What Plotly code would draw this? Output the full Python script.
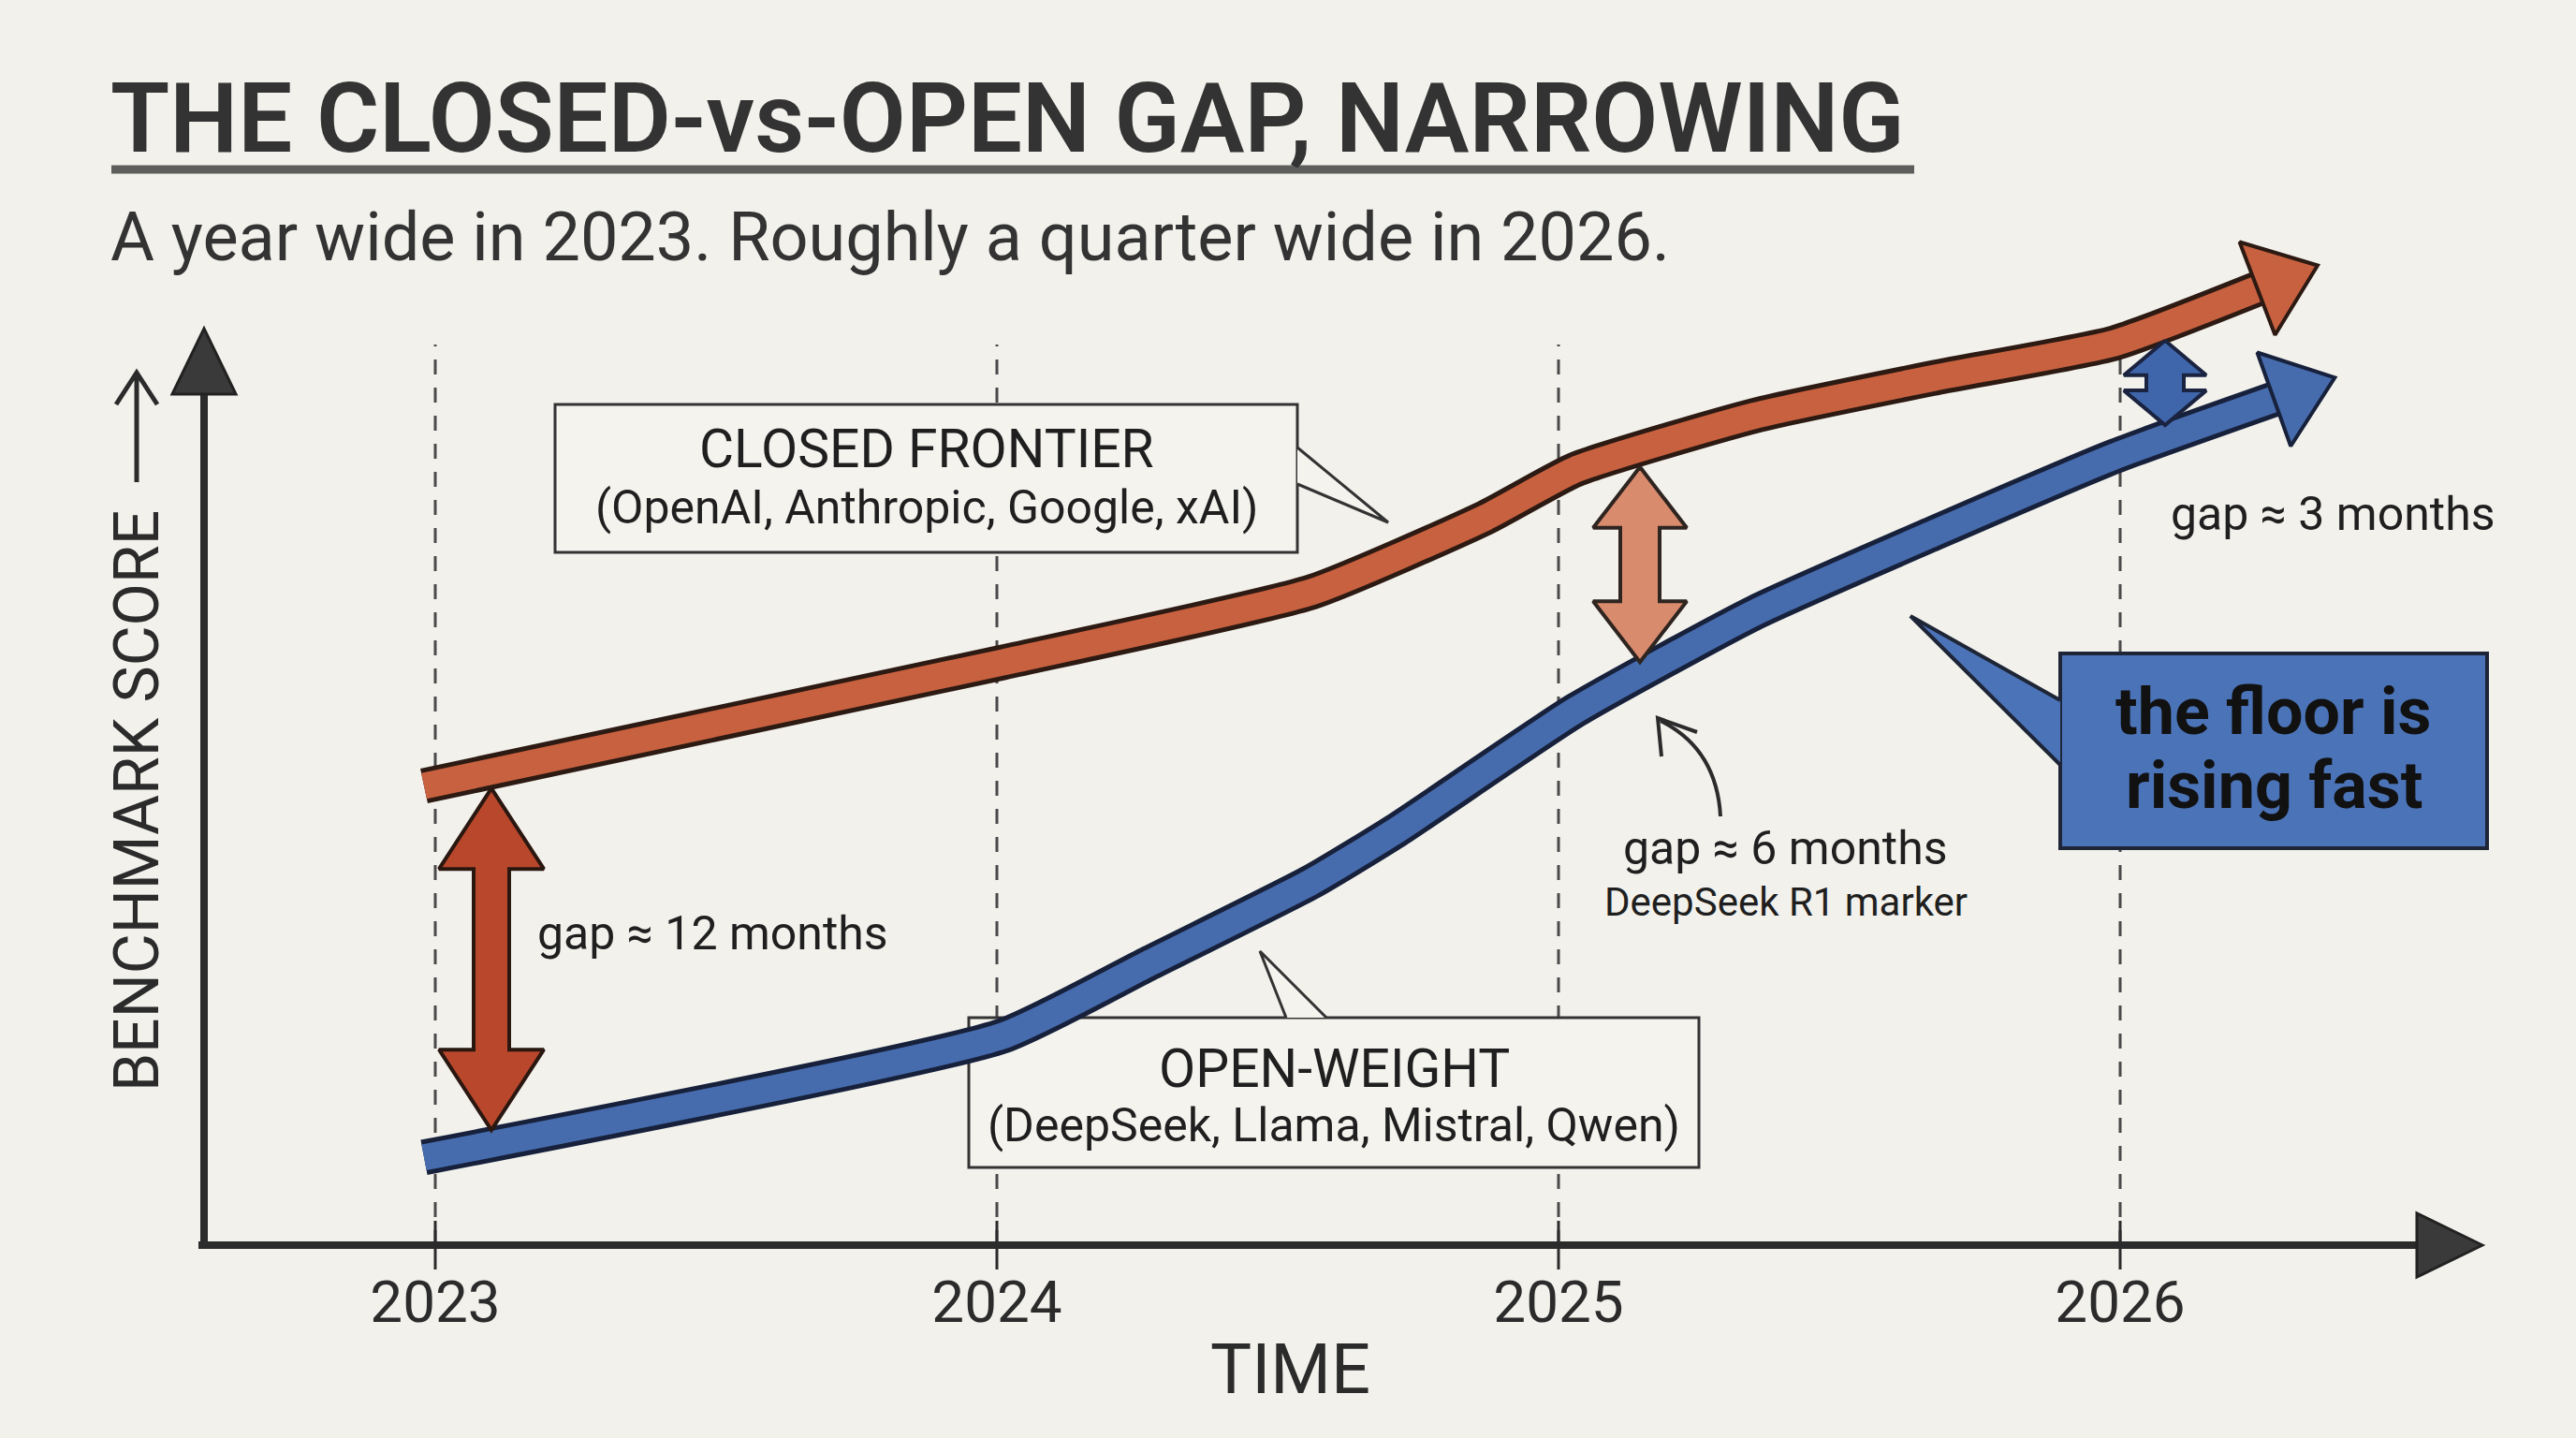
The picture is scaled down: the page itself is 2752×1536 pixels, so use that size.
import numpy as np
import plotly.graph_objects as go

# ---------------- data ----------------
closed_years = [2022.98, 2024.01, 2024.56, 2024.87, 2025.03, 2025.35, 2025.67, 2025.99, 2026.28]
closed_score = [45.0, 57.1, 64.0, 71.3, 76.0, 81.3, 85.0, 88.4, 94.5]
open_years = [2022.98, 2024.01, 2024.27, 2024.56, 2024.71, 2025.03, 2025.35, 2025.67, 2025.99, 2026.31]
open_score = [8.6, 20.5, 27.6, 35.6, 40.6, 52.4, 62.0, 69.8, 77.3, 83.6]
year_ticks = [2023, 2024, 2025, 2026]
tick_labels = ["2023", "2024", "2025", "2026"]
gap_years = [2023.10, 2025.145, 2026.08]
gap_labels = ["gap ≈ 12 months", "gap ≈ 6 months", "gap ≈ 3 months"]

# ---------------- geometry ----------------
W, H = 2752, 1536
PL, PR, PT, PB = 218, 2640, 240, 1330
X_PX_PER_YEAR = 600.0
X_REF_YEAR, X_REF_PX = 2024.5, 1365
x_range = [X_REF_YEAR + (PL - X_REF_PX) / X_PX_PER_YEAR, X_REF_YEAR + (PR - X_REF_PX) / X_PX_PER_YEAR]
y_range = [0, 100]
Y_PX = (PB - PT) / (y_range[1] - y_range[0])

FONT = "Roboto"
INK = "#2b2b2b"
BG = "#f2f1ec"
RED, RED_EDGE = "#c8613f", "#2c1a13"
BLUE, BLUE_EDGE = "#476cae", "#17213b"


def qx(xpix):
    return (xpix - PL) / (PR - PL)


def qy(ypix):
    return (PB - ypix) / (PB - PT)


def P(xpix, ypix):
    return f"{qx(xpix):.5f},{qy(ypix):.5f}"


fig = go.Figure()

# ---- main series (outline + fill + arrowhead) ----
for xs, ys, col, edge in [(closed_years, closed_score, RED, RED_EDGE),
                          (open_years, open_score, BLUE, BLUE_EDGE)]:
    n = len(xs)
    fig.add_trace(go.Scatter(x=xs, y=ys, mode="lines",
                             line=dict(color=edge, width=38, shape="spline", smoothing=0.5),
                             hoverinfo="skip"))
    fig.add_trace(go.Scatter(x=xs, y=ys, mode="lines+markers",
                             line=dict(color=col, width=28, shape="spline", smoothing=0.5),
                             marker=dict(symbol="triangle-up", angleref="previous", opacity=1,
                                         size=[0] * (n - 1) + [92], color=col,
                                         line=dict(color=edge, width=[0] * (n - 1) + [4])),
                             hoverinfo="skip"))


# ---- gap double arrows ----
def double_arrow(xc, ytop, ybot, hw, hh, sw):
    hwx = hw / 2 / X_PX_PER_YEAR
    swx = sw / 2 / X_PX_PER_YEAR
    hhy = hh / Y_PX
    xs = [xc, xc + hwx, xc + swx, xc + swx, xc + hwx, xc, xc - hwx, xc - swx, xc - swx, xc - hwx, xc]
    ys = [ytop, ytop - hhy, ytop - hhy, ybot + hhy, ybot + hhy, ybot,
          ybot + hhy, ybot + hhy, ytop - hhy, ytop - hhy, ytop]
    return xs, ys


arrow_styles = [
    dict(hw=112, hh=86, sw=38, fill="#b8472c", edge="#2a1710"),
    dict(hw=100, hh=65, sw=42, fill="#d98b6e", edge="#2e2420"),
    dict(hw=88, hh=37, sw=40, fill="#3f66ab", edge="#1a2340"),
]
for gx, st in zip(gap_years, arrow_styles):
    top = np.interp(gx, closed_years, closed_score) - 18 / Y_PX
    bot = np.interp(gx, open_years, open_score) + 14 / Y_PX
    ax, ay = double_arrow(gx, top, bot, st["hw"], st["hh"], st["sw"])
    fig.add_trace(go.Scatter(x=ax, y=ay, mode="lines", fill="toself",
                             fillcolor=st["fill"], line=dict(color=st["edge"], width=4),
                             hoverinfo="skip"))

shapes = []
# dashed year guides
for yr in year_ticks:
    shapes.append(dict(type="line", xref="x", yref="paper", x0=yr, x1=yr,
                       y0=qy(1330), y1=qy(368), layer="below",
                       line=dict(color="#4a4a4a", width=3, dash="16px,14px")))


def bubble(x0, y0, x1, y1, tail, fill, edge, lw):
    out = [dict(type="rect", xref="paper", yref="paper", x0=qx(x0), x1=qx(x1),
                y0=qy(y1), y1=qy(y0), fillcolor=fill, layer="below",
                line=dict(color=edge, width=lw))]
    (a, b, c) = tail
    out.append(dict(type="path", xref="paper", yref="paper", layer="below",
                    path=f"M{P(*a)} L{P(*b)} L{P(*c)} Z", fillcolor=fill,
                    line=dict(width=0)))
    out.append(dict(type="path", xref="paper", yref="paper", layer="below",
                    path=f"M{P(*a)} L{P(*b)} L{P(*c)}",
                    line=dict(color=edge, width=lw)))
    return out


shapes += bubble(593, 432, 1386, 590, [(1386, 478), (1483, 558), (1386, 517)], "#f4f3ee", "#333333", 3)
shapes += bubble(1035, 1087, 1815, 1247, [(1374, 1087), (1346, 1016), (1417, 1087)], "#f4f3ee", "#333333", 3)
shapes += bubble(2201, 698, 2657, 906, [(2201, 748), (2041, 658), (2201, 817)], "#4b73b7", "#1d2536", 4)

# axes
shapes.append(dict(type="line", xref="paper", yref="paper", x0=qx(218), x1=qx(218),
                   y0=qy(1334), y1=qy(400), line=dict(color=INK, width=8), layer="above"))
shapes.append(dict(type="path", xref="paper", yref="paper", layer="above",
                   path=f"M{P(218, 351)} L{P(184, 421)} L{P(252, 421)} Z",
                   fillcolor="#3a3a3a", line=dict(color="#222222", width=3)))
shapes.append(dict(type="line", xref="paper", yref="paper", x0=qx(212), x1=qx(2600),
                   y0=qy(1330), y1=qy(1330), line=dict(color=INK, width=8), layer="above"))
shapes.append(dict(type="path", xref="paper", yref="paper", layer="above",
                   path=f"M{P(2652, 1330)} L{P(2582, 1296)} L{P(2582, 1364)} Z",
                   fillcolor="#3a3a3a", line=dict(color="#222222", width=3)))
for yr in year_ticks:
    shapes.append(dict(type="line", xref="x", yref="paper", x0=yr, x1=yr,
                       y0=qy(1356), y1=qy(1304), line=dict(color=INK, width=3), layer="above"))

# y label arrow
shapes.append(dict(type="path", xref="paper", yref="paper", layer="above",
                   path=f"M{P(146, 515)} L{P(146, 398)} M{P(124, 432)} L{P(146, 398)} L{P(168, 432)}",
                   line=dict(color=INK, width=5)))
# title underline
shapes.append(dict(type="line", xref="paper", yref="paper", x0=qx(119), x1=qx(2045),
                   y0=qy(181), y1=qy(181), line=dict(color="#444444", width=9),
                   opacity=0.85, layer="above"))
# curved pointer to DeepSeek R1
shapes.append(dict(type="path", xref="paper", yref="paper", layer="above",
                   path=f"M{P(1838, 872)} Q{P(1834, 800)} {P(1774, 770)}",
                   line=dict(color=INK, width=4)))
shapes.append(dict(type="path", xref="paper", yref="paper", layer="above",
                   path=f"M{P(1775, 808)} L{P(1771, 767)} L{P(1813, 782)}",
                   line=dict(color=INK, width=4)))

annotations = []


def text(t, xpix, ypix, size, anchor="center", weight=400, color="#1f1f1f", angle=0):
    annotations.append(dict(text=t, xref="paper", yref="paper", x=qx(xpix), y=qy(ypix),
                            xanchor=anchor, yanchor="middle", showarrow=False, textangle=angle,
                            font=dict(family=FONT, size=size, color=color, weight=weight)))


text("THE CLOSED-vs-OPEN GAP, NARROWING", 116, 126, 103, "left", 600, "#333333")
text("A year wide in 2023. Roughly a quarter wide in 2026.", 116, 254, 72, "left", 400, "#333333")
text("BENCHMARK SCORE", 146, 856, 66, "center", 400, INK, -90)
text("TIME", 1378, 1462, 74, "center", 400, INK)
text("CLOSED FRONTIER", 990, 479, 57)
text("(OpenAI, Anthropic, Google, xAI)", 990, 542, 50)
text("OPEN-WEIGHT", 1425, 1141, 57)
text("(DeepSeek, Llama, Mistral, Qwen)", 1425, 1202, 50)
text(gap_labels[0], 572, 997, 50, "left")
text(gap_labels[1], 1907, 906, 50)
text("DeepSeek R1 marker", 1908, 963, 42)
text(gap_labels[2], 2317, 549, 50, "left")
text("the floor is", 2429, 760, 70, "center", 700, "#111111")
text("rising fast", 2429, 839, 70, "center", 700, "#111111")

fig.update_layout(
    width=W, height=H,
    margin=dict(l=PL, r=W - PR, t=PT, b=H - PB),
    paper_bgcolor=BG, plot_bgcolor=BG,
    showlegend=False,
    shapes=shapes,
    annotations=annotations,
    xaxis=dict(range=x_range, showgrid=False, zeroline=False, showline=False,
               tickvals=year_ticks, ticktext=tick_labels, ticks="outside", ticklen=7,
               tickcolor="rgba(0,0,0,0)", tickfont=dict(family=FONT, size=62, color=INK),
               fixedrange=True),
    yaxis=dict(range=y_range, showgrid=False, zeroline=False, showline=False,
               showticklabels=False, ticks="", fixedrange=True),
)

fig.write_html("out.html")
